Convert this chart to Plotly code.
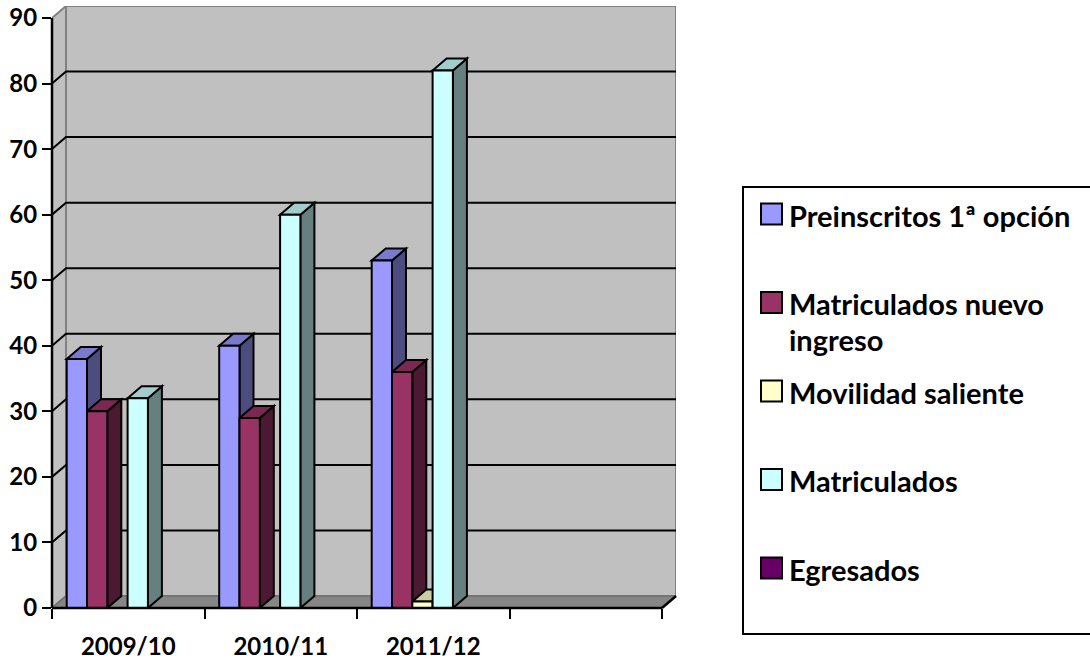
import numpy as np
import plotly.graph_objects as go

# ---------------- data ----------------
categories = ["2009/10", "2010/11", "2011/12"]
n_slots = 4  # the category axis has one empty slot at the end
series_names = ["Preinscritos 1ª opción", "Matriculados nuevo ingreso",
                "Movilidad saliente", "Matriculados", "Egresados"]
legend_lines = [["Preinscritos 1ª opción"], ["Matriculados nuevo", "ingreso"],
                ["Movilidad saliente"], ["Matriculados"], ["Egresados"]]
preinscritos = [38, 40, 53]
matriculados_nuevo = [30, 29, 36]
movilidad_saliente = [0, 0, 1]
matriculados = [32, 60, 82]
egresados = [0, 0, 0]
y_ticks = [0, 10, 20, 30, 40, 50, 60, 70, 80, 90]

series_values = [preinscritos, matriculados_nuevo, movilidad_saliente,
                 matriculados, egresados]
front_colors = ["#9999FF", "#993366", "#FFFFCC", "#CCFFFF", "#660066"]

# ---------------- geometry (pixels) ----------------
W, H = 1090, 662
PX_L, PX_R, PX_T, PX_B = 52, 676, 6, 608
SLOT_PX = 152.5
UNIT_PX = 590 / 90
x_range = [0, (PX_R - PX_L) / SLOT_PX]
y_max = (PX_B - PX_T) / UNIT_PX
y_range = [0, y_max]
DX = 14 / SLOT_PX          # depth offset in x units
DY = 12 / UNIT_PX          # depth offset in y units
BAR_W = 20.3 / SLOT_PX
GROUP_OFF = 14.7 / SLOT_PX
TOP = max(y_ticks)

FONT = "Lato"


def shade(hex_color, f):
    h = hex_color.lstrip("#")
    r, g, b = (int(h[i:i + 2], 16) for i in (0, 2, 4))
    return "#%02X%02X%02X" % (int(r * f), int(g * f), int(b * f))


def path(pts):
    return "M " + " L ".join(f"{x},{y}" for x, y in pts) + " Z"


def px_x(p):
    return (p - PX_L) / (PX_R - PX_L)


def px_y(p):
    return (PX_B - p) / (PX_B - PX_T)


shapes = []
# back wall
shapes.append(dict(type="rect", xref="x", yref="y", x0=DX, x1=n_slots + DX,
                   y0=DY, y1=TOP + DY, fillcolor="#C0C0C0",
                   line=dict(color="#808080", width=2), layer="below"))
# side wall
shapes.append(dict(type="path", xref="x", yref="y",
                   path=path([(0, 0), (0, TOP), (DX, TOP + DY), (DX, DY)]),
                   fillcolor="#C0C0C0", line=dict(color="#808080", width=2),
                   layer="below"))
# floor
shapes.append(dict(type="path", xref="x", yref="y",
                   path=path([(0, 0), (n_slots, 0), (n_slots + DX, DY), (DX, DY)]),
                   fillcolor="#868686", line=dict(color="#707070", width=1.5),
                   layer="below"))
# gridlines (side wall diagonal + back wall horizontal)
for t in y_ticks[1:-1]:
    shapes.append(dict(type="path", xref="x", yref="y",
                       path=f"M 0,{t} L {DX},{t + DY} L {n_slots + DX},{t + DY}",
                       line=dict(color="black", width=2), layer="below"))

# 3D side and top faces of bars
for c in range(len(categories)):
    for i, vals in enumerate(series_values):
        v = vals[c]
        if v <= 0:
            continue
        x0 = c + GROUP_OFF + i * BAR_W
        x1 = x0 + BAR_W
        shapes.append(dict(type="path", xref="x", yref="y",
                           path=path([(x1, 0), (x1 + DX, DY), (x1 + DX, v + DY), (x1, v)]),
                           fillcolor=shade(front_colors[i], 0.5),
                           line=dict(color="black", width=2), layer="below"))
        shapes.append(dict(type="path", xref="x", yref="y",
                           path=path([(x0, v), (x0 + DX, v + DY), (x1 + DX, v + DY), (x1, v)]),
                           fillcolor=shade(front_colors[i], 0.8),
                           line=dict(color="black", width=2), layer="below"))

# front axis lines (paper coords so they are not clipped)
shapes.append(dict(type="line", xref="paper", yref="paper", x0=0, x1=0,
                   y0=0, y1=TOP / y_max, line=dict(color="black", width=2.5),
                   layer="above"))
shapes.append(dict(type="line", xref="paper", yref="paper", x0=0,
                   x1=n_slots / x_range[1], y0=0, y1=0,
                   line=dict(color="black", width=2.5), layer="above"))
shapes.append(dict(type="line", xref="paper", yref="paper",
                   x0=n_slots / x_range[1], x1=(n_slots + DX) / x_range[1],
                   y0=0, y1=DY / y_max, line=dict(color="black", width=2.5),
                   layer="above"))

# legend box
shapes.append(dict(type="rect", xref="paper", yref="paper",
                   x0=px_x(743), x1=px_x(1100), y0=px_y(634), y1=px_y(187),
                   line=dict(color="black", width=2), fillcolor="white",
                   layer="above"))

annotations = []
item_y = [214 + k * 88.5 for k in range(len(series_names))]
for k, (lines, col) in enumerate(zip(legend_lines, front_colors)):
    cy = item_y[k]
    shapes.append(dict(type="rect", xref="paper", yref="paper",
                       x0=px_x(761), x1=px_x(782), y0=px_y(cy + 10.5),
                       y1=px_y(cy - 10.5), fillcolor=col,
                       line=dict(color="black", width=2), layer="above"))
    for j, line in enumerate(lines):
        annotations.append(dict(xref="paper", yref="paper", x=px_x(787),
                                y=px_y(cy + 1 + j * 36), xanchor="left",
                                yanchor="middle", text=line, showarrow=False,
                                font=dict(family=FONT, size=29, color="black",
                                          weight="bold")))

fig = go.Figure()
centers = list(np.arange(len(categories)) + 0.5)
for i, (name, vals) in enumerate(zip(series_names, series_values)):
    fig.add_trace(go.Bar(
        x=centers, y=vals, name=name, width=BAR_W,
        offset=-0.5 + GROUP_OFF + i * BAR_W,
        marker=dict(color=front_colors[i], line=dict(color="black", width=2)),
        cliponaxis=False, showlegend=False))
# carrier for the boundary-tick axis
fig.add_trace(go.Scatter(x=[], y=[], xaxis="x2", showlegend=False))

tickfont = dict(family=FONT, size=24, color="black", weight="bold")
fig.update_layout(
    width=W, height=H,
    margin=dict(l=PX_L, r=W - PX_R, t=PX_T, b=H - PX_B, autoexpand=False),
    paper_bgcolor="white", plot_bgcolor="white",
    barmode="overlay", showlegend=False,
    xaxis=dict(range=x_range, tickvals=centers, ticktext=categories,
               ticks="outside", ticklen=17, tickcolor="rgba(0,0,0,0)",
               showgrid=False, zeroline=False, showline=False,
               tickfont=tickfont, automargin=False),
    xaxis2=dict(range=x_range, overlaying="x", anchor="y", side="bottom",
                tickvals=list(range(n_slots + 1)), ticks="outside",
                ticklen=10, tickwidth=2, tickcolor="black",
                showticklabels=False, showgrid=False, zeroline=False,
                showline=False, automargin=False),
    yaxis=dict(range=y_range, tickvals=y_ticks, ticks="outside", ticklen=9,
               tickwidth=2, tickcolor="black", showgrid=False,
               zeroline=False, showline=False, tickfont=tickfont,
               automargin=False),
    shapes=shapes, annotations=annotations,
)

fig.write_html(
    "out.html",
    config={"displayModeBar": False},
    post_script="document.body.style.margin='0';document.body.style.overflow='hidden';",
)
